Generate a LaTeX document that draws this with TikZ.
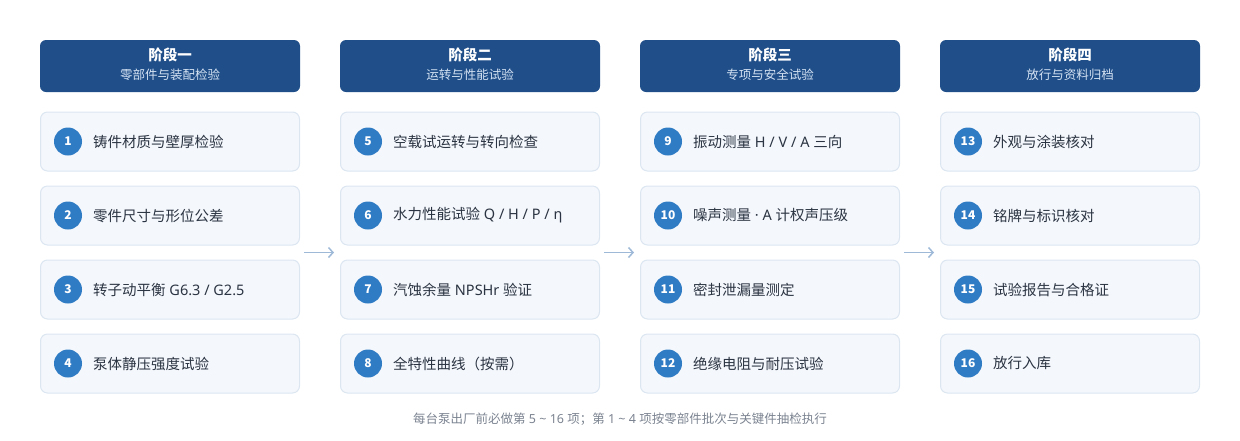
\documentclass[tikz,border=0pt]{standalone}
\usepackage{fontspec}
\setmainfont{Noto Sans CJK SC}
\newfontfamily\latinfont{Noto Sans}
\newcommand{\lat}[1]{{\latinfont #1}}
\usetikzlibrary{arrows.meta}
\definecolor{stagebg}{HTML}{1F4E89}
\definecolor{stagesub}{HTML}{D5E3F3}
\definecolor{itembg}{HTML}{F4F7FC}
\definecolor{itemline}{HTML}{DCE6F1}
\definecolor{dotblue}{HTML}{2F7BC4}
\definecolor{itemink}{HTML}{2B3442}
\definecolor{flowblue}{HTML}{9DB9D7}
\definecolor{noteink}{HTML}{7B8390}
\tikzset{
  stagehead/.style={shape=rectangle,rounded corners=6pt,fill=stagebg,minimum width=260pt,minimum height=52pt,inner sep=0pt},
  stagetitle/.style={text=white,font=\fontsize{14.5}{16}\selectfont\bfseries,inner sep=0pt},
  stagesubtitle/.style={text=stagesub,font=\fontsize{12.5}{14}\selectfont,inner sep=0pt},
  itembox/.style={shape=rectangle,rounded corners=7pt,draw=itemline,fill=itembg,line width=1pt,minimum width=259pt,minimum height=59pt,inner sep=0pt},
  numdot/.style={shape=circle,fill=dotblue,text=white,minimum size=28pt,inner sep=0pt,font=\fontsize{12}{12}\selectfont\bfseries},
  itemtext/.style={anchor=west,text=itemink,font=\fontsize{14.5}{16}\selectfont,inner sep=0pt},
  flow/.style={draw=flowblue,line width=1.5pt,-{Straight Barb[length=4.5pt,width=10pt]}}
}
\begin{document}
\begin{tikzpicture}[x=1pt,y=-1pt]
    \useasboundingbox (0,0) rectangle (1240,440);

    \node[stagehead] (H1) at (170,66) {};
    \node[stagehead] (H2) at (470,66) {};
    \node[stagehead] (H3) at (770,66) {};
    \node[stagehead] (H4) at (1070,66) {};
    \node[stagetitle] (HT1) at (170,55) {阶段一};
    \node[stagetitle] (HT2) at (470,55) {阶段二};
    \node[stagetitle] (HT3) at (770,55) {阶段三};
    \node[stagetitle] (HT4) at (1070,55) {阶段四};
    \node[stagesubtitle] (HS1) at (170,74.5) {零部件与装配检验};
    \node[stagesubtitle] (HS2) at (470,74.5) {运转与性能试验};
    \node[stagesubtitle] (HS3) at (770,74.5) {专项与安全试验};
    \node[stagesubtitle] (HS4) at (1070,74.5) {放行与资料归档};

    \node[itembox] (I1) at (170,141.5) {};
    \node[itembox] (I2) at (170,215.5) {};
    \node[itembox] (I3) at (170,289.5) {};
    \node[itembox] (I4) at (170,363.5) {};
    \node[itembox] (I5) at (470,141.5) {};
    \node[itembox] (I6) at (470,215.5) {};
    \node[itembox] (I7) at (470,289.5) {};
    \node[itembox] (I8) at (470,363.5) {};
    \node[itembox] (I9) at (770,141.5) {};
    \node[itembox] (I10) at (770,215.5) {};
    \node[itembox] (I11) at (770,289.5) {};
    \node[itembox] (I12) at (770,363.5) {};
    \node[itembox] (I13) at (1070,141.5) {};
    \node[itembox] (I14) at (1070,215.5) {};
    \node[itembox] (I15) at (1070,289.5) {};
    \node[itembox] (I16) at (1070,363.5) {};

    \node[numdot] (N1) at (68,141.5) {1};
    \node[numdot] (N2) at (68,215.5) {2};
    \node[numdot] (N3) at (68,289.5) {3};
    \node[numdot] (N4) at (68,363.5) {4};
    \node[numdot] (N5) at (368,141.5) {5};
    \node[numdot] (N6) at (368,215.5) {6};
    \node[numdot] (N7) at (368,289.5) {7};
    \node[numdot] (N8) at (368,363.5) {8};
    \node[numdot] (N9) at (668,141.5) {9};
    \node[numdot] (N10) at (668,215.5) {10};
    \node[numdot] (N11) at (668,289.5) {11};
    \node[numdot] (N12) at (668,363.5) {12};
    \node[numdot] (N13) at (968,141.5) {13};
    \node[numdot] (N14) at (968,215.5) {14};
    \node[numdot] (N15) at (968,289.5) {15};
    \node[numdot] (N16) at (968,363.5) {16};

    \node[itemtext] (T1) at (93,141.5) {铸件材质与壁厚检验};
    \node[itemtext] (T2) at (93,215.5) {零件尺寸与形位公差};
    \node[itemtext] (T3) at (93,289.5) {转子动平衡\lat{ G6.3 / G2.5}};
    \node[itemtext] (T4) at (93,363.5) {泵体静压强度试验};
    \node[itemtext] (T5) at (393,141.5) {空载试运转与转向检查};
    \node[itemtext] (T6) at (393,215.5) {水力性能试验\lat{ Q / H / P / η}};
    \node[itemtext] (T7) at (393,289.5) {汽蚀余量\lat{ NPSHr }验证};
    \node[itemtext] (T8) at (393,363.5) {全特性曲线（按需）};
    \node[itemtext] (T9) at (693,141.5) {振动测量\lat{ H / V / A }三向};
    \node[itemtext] (T10) at (693,215.5) {噪声测量\lat{ · A }计权声压级};
    \node[itemtext] (T11) at (693,289.5) {密封泄漏量测定};
    \node[itemtext] (T12) at (693,363.5) {绝缘电阻与耐压试验};
    \node[itemtext] (T13) at (993,141.5) {外观与涂装核对};
    \node[itemtext] (T14) at (993,215.5) {铭牌与标识核对};
    \node[itemtext] (T15) at (993,289.5) {试验报告与合格证};
    \node[itemtext] (T16) at (993,363.5) {放行入库};

    \coordinate (A1) at (304,252.5);
    \coordinate (B1) at (334,252.5);
    \coordinate (A2) at (604,252.5);
    \coordinate (B2) at (634,252.5);
    \coordinate (A3) at (904,252.5);
    \coordinate (B3) at (934,252.5);
    \draw [flow] (A1) -- (B1);
    \draw [flow] (A2) -- (B2);
    \draw [flow] (A3) -- (B3);

    \node[text=noteink,font=\fontsize{12.5}{14}\selectfont] (F) at (620,419) {每台泵出厂前必做第\lat{ 5 \textasciitilde{} 16 }项；第\lat{ 1 \textasciitilde{} 4 }项按零部件批次与关键件抽检执行};
\end{tikzpicture}
\end{document}
